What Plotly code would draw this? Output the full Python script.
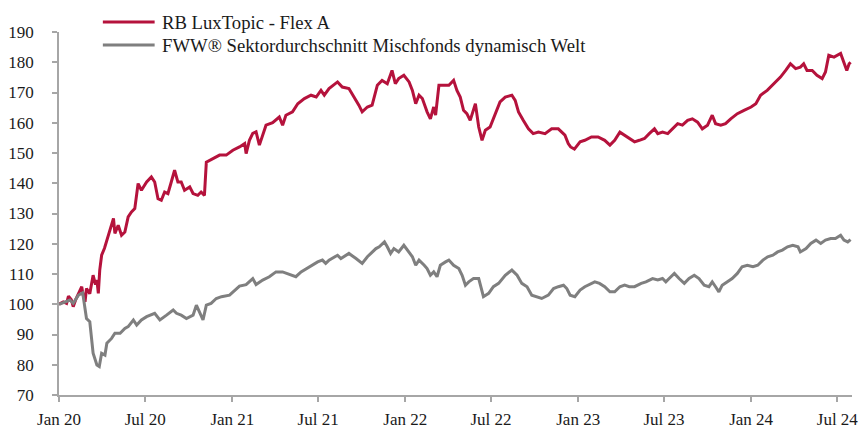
import plotly.graph_objects as go

red_name = "RB LuxTopic - Flex A"
grey_name = "FWW® Sektordurchschnitt Mischfonds dynamisch Welt"

red_dates = [
    "2020-01-01", "2020-01-10", "2020-01-17", "2020-01-21", "2020-01-27", "2020-01-31",
    "2020-02-06", "2020-02-11", "2020-02-18", "2020-02-21", "2020-02-25", "2020-02-28",
    "2020-03-06", "2020-03-13", "2020-03-18", "2020-03-21", "2020-03-24", "2020-03-27",
    "2020-03-31", "2020-04-06", "2020-04-11", "2020-04-18", "2020-04-25", "2020-04-28",
    "2020-05-05", "2020-05-12", "2020-05-19", "2020-05-26", "2020-06-02", "2020-06-09",
    "2020-06-13", "2020-06-16", "2020-06-23", "2020-07-04", "2020-07-14", "2020-07-21",
    "2020-07-28", "2020-08-04", "2020-08-11", "2020-08-18", "2020-08-25", "2020-09-01",
    "2020-09-08", "2020-09-15", "2020-09-22", "2020-10-03", "2020-10-10", "2020-10-20",
    "2020-10-27", "2020-11-03", "2020-11-07", "2020-11-21", "2020-12-05", "2020-12-19",
    "2021-01-02", "2021-01-16", "2021-01-27", "2021-01-30", "2021-02-06", "2021-02-13",
    "2021-02-20", "2021-02-27", "2021-03-06", "2021-03-13", "2021-03-27", "2021-04-10",
    "2021-04-17", "2021-04-24", "2021-05-08", "2021-05-19", "2021-06-02", "2021-06-16",
    "2021-06-27", "2021-07-07", "2021-07-14", "2021-07-24", "2021-08-11", "2021-08-21",
    "2021-09-04", "2021-09-15", "2021-09-25", "2021-10-02", "2021-10-13", "2021-10-23",
    "2021-11-03", "2021-11-13", "2021-11-24", "2021-12-04", "2021-12-11", "2021-12-18",
    "2021-12-29", "2022-01-09", "2022-01-16", "2022-01-23", "2022-01-30", "2022-02-06",
    "2022-02-16", "2022-02-23", "2022-03-02", "2022-03-06", "2022-03-13", "2022-03-23",
    "2022-04-03", "2022-04-13", "2022-04-20", "2022-04-27", "2022-05-04", "2022-05-11",
    "2022-05-18", "2022-05-29", "2022-06-05", "2022-06-12", "2022-06-19", "2022-06-29",
    "2022-07-10", "2022-07-20", "2022-07-31", "2022-08-14", "2022-08-21", "2022-08-28",
    "2022-09-07", "2022-09-18", "2022-09-28", "2022-10-09", "2022-10-23", "2022-11-06",
    "2022-11-20", "2022-11-27", "2022-12-04", "2022-12-11", "2022-12-16", "2022-12-24",
    "2023-01-05", "2023-01-15", "2023-01-29", "2023-02-12", "2023-02-26", "2023-03-09",
    "2023-03-19", "2023-03-30", "2023-04-09", "2023-04-19", "2023-04-30", "2023-05-10",
    "2023-05-21", "2023-05-31", "2023-06-11", "2023-06-18", "2023-06-28", "2023-07-09",
    "2023-07-19", "2023-07-30", "2023-08-09", "2023-08-20", "2023-08-30", "2023-09-10",
    "2023-09-20", "2023-10-01", "2023-10-11", "2023-10-18", "2023-10-29", "2023-11-08",
    "2023-11-19", "2023-12-03", "2023-12-17", "2024-01-01", "2024-01-11", "2024-01-21",
    "2024-02-04", "2024-02-18", "2024-03-03", "2024-03-14", "2024-03-24", "2024-04-04",
    "2024-04-14", "2024-04-21", "2024-04-28", "2024-05-09", "2024-05-19", "2024-05-30",
    "2024-06-06", "2024-06-13", "2024-06-24", "2024-07-08", "2024-07-15", "2024-07-21",
    "2024-07-26", "2024-07-29",
]
red_vals = [
    100.0, 100.8, 100.3, 102.7, 101.5, 99.2,
    101.8, 103.6, 105.8, 103.0, 100.8, 105.2,
    103.5, 109.6, 106.5, 108.0, 103.6, 111.3,
    116.2, 118.5, 121.2, 124.5, 128.4, 123.4,
    126.1, 122.8, 123.9, 128.9, 130.5, 131.6,
    137.1, 139.9, 137.7, 140.4, 142.1, 140.4,
    134.9, 134.4, 137.1, 136.6, 140.4, 144.3,
    140.4, 140.4, 137.7, 138.8, 136.6, 136.0,
    137.1, 136.0, 147.0, 148.2, 149.3, 149.3,
    150.9, 152.0, 153.1, 149.8, 154.2, 156.5,
    157.0, 152.6, 156.0, 159.2, 160.0, 161.9,
    159.2, 162.5, 163.6, 166.3, 168.0, 169.1,
    168.5, 170.7, 169.1, 171.3, 173.5, 171.8,
    171.3, 168.5, 165.8, 163.6, 165.2, 165.8,
    172.4, 174.0, 172.9, 177.3, 172.9, 174.6,
    175.7, 173.5, 170.7, 166.3, 169.1, 168.0,
    163.6, 161.3, 165.2, 162.5, 172.4, 172.4,
    172.4, 174.0, 170.7, 168.5, 164.1, 163.0,
    160.8, 166.3, 158.6, 154.2, 157.5, 158.6,
    163.0, 166.9, 168.5, 169.1, 167.4, 163.6,
    160.8, 158.0, 156.4, 156.9, 156.4, 158.0,
    158.0, 156.9, 155.9, 153.1, 152.0, 151.3,
    153.7, 154.2, 155.3, 155.3, 154.2, 152.6,
    154.2, 156.9, 155.9, 154.8, 153.7, 154.2,
    154.8, 156.4, 158.0, 156.4, 156.9, 156.4,
    158.0, 159.7, 159.2, 160.8, 161.3, 160.2,
    158.0, 159.2, 162.5, 159.7, 159.2, 159.7,
    161.3, 163.0, 164.1, 165.2, 166.3, 169.1,
    170.7, 172.9, 175.1, 177.3, 179.5, 177.9,
    178.4, 179.5, 177.3, 177.3, 175.7, 174.6,
    176.8, 182.3, 181.7, 182.9, 179.5, 177.3,
    179.5, 180.0,
]

grey_dates = [
    "2020-01-01", "2020-01-14", "2020-01-24", "2020-01-31", "2020-02-11", "2020-02-20",
    "2020-02-25", "2020-02-28", "2020-03-06", "2020-03-13", "2020-03-21", "2020-03-26",
    "2020-03-31", "2020-04-07", "2020-04-11", "2020-04-21", "2020-04-28", "2020-05-09",
    "2020-05-19", "2020-05-26", "2020-06-06", "2020-06-13", "2020-06-23", "2020-07-04",
    "2020-07-21", "2020-08-01", "2020-08-15", "2020-08-29", "2020-09-05", "2020-09-15",
    "2020-09-26", "2020-10-10", "2020-10-17", "2020-10-24", "2020-10-31", "2020-11-07",
    "2020-11-17", "2020-11-28", "2020-12-09", "2020-12-26", "2021-01-06", "2021-01-16",
    "2021-01-30", "2021-02-13", "2021-02-20", "2021-03-06", "2021-03-20", "2021-04-03",
    "2021-04-17", "2021-05-01", "2021-05-15", "2021-05-26", "2021-06-12", "2021-06-30",
    "2021-07-10", "2021-07-17", "2021-07-24", "2021-08-11", "2021-08-18", "2021-09-04",
    "2021-09-19", "2021-10-02", "2021-10-13", "2021-10-31", "2021-11-07", "2021-11-18",
    "2021-11-24", "2021-12-01", "2021-12-08", "2021-12-18", "2021-12-29", "2022-01-05",
    "2022-01-16", "2022-01-23", "2022-01-30", "2022-02-10", "2022-02-16", "2022-02-23",
    "2022-03-02", "2022-03-09", "2022-03-16", "2022-03-27", "2022-04-03", "2022-04-13",
    "2022-04-24", "2022-05-01", "2022-05-08", "2022-05-15", "2022-05-25", "2022-06-05",
    "2022-06-15", "2022-06-26", "2022-07-06", "2022-07-17", "2022-07-31", "2022-08-14",
    "2022-08-25", "2022-09-04", "2022-09-15", "2022-09-25", "2022-10-06", "2022-10-16",
    "2022-10-30", "2022-11-10", "2022-11-20", "2022-12-01", "2022-12-08", "2022-12-15",
    "2022-12-25", "2023-01-05", "2023-01-15", "2023-01-29", "2023-02-05", "2023-02-15",
    "2023-02-26", "2023-03-09", "2023-03-19", "2023-03-30", "2023-04-09", "2023-04-19",
    "2023-04-30", "2023-05-14", "2023-05-24", "2023-06-07", "2023-06-18", "2023-06-28",
    "2023-07-05", "2023-07-12", "2023-07-23", "2023-08-02", "2023-08-13", "2023-08-23",
    "2023-09-03", "2023-09-13", "2023-09-24", "2023-10-04", "2023-10-11", "2023-10-18",
    "2023-10-25", "2023-11-01", "2023-11-12", "2023-11-22", "2023-12-03", "2023-12-13",
    "2023-12-24", "2024-01-05", "2024-01-15", "2024-01-26", "2024-02-05", "2024-02-16",
    "2024-02-26", "2024-03-07", "2024-03-18", "2024-03-29", "2024-04-09", "2024-04-14",
    "2024-04-26", "2024-05-06", "2024-05-17", "2024-05-27", "2024-06-06", "2024-06-17",
    "2024-06-27", "2024-07-08", "2024-07-15", "2024-07-23", "2024-07-29",
]
grey_vals = [
    100.0, 100.8, 101.4, 100.3, 103.0, 103.8,
    99.2, 95.3, 94.2, 83.8, 79.9, 79.4,
    83.8, 83.2, 87.1, 88.7, 90.4, 90.4,
    92.0, 92.6, 94.8, 93.1, 94.8, 95.9,
    97.0, 94.8, 96.4, 98.1, 97.0, 96.4,
    95.3, 96.4, 99.7, 97.5, 94.8, 99.7,
    100.3, 101.9, 102.5, 103.0, 104.7, 106.0,
    106.5, 108.5, 106.5, 108.0, 109.1, 110.7,
    110.7, 110.0, 109.1, 110.7, 112.4, 114.0,
    114.6, 113.5, 114.6, 116.2, 115.1, 116.8,
    115.1, 113.5, 115.7, 118.4, 119.0, 120.6,
    119.0, 116.8, 118.4, 117.3, 119.5, 117.9,
    115.7, 112.9, 114.6, 112.9, 111.8, 109.6,
    110.7, 109.1, 112.9, 114.0, 114.6, 112.9,
    111.8, 109.6, 106.3, 107.4, 108.5, 108.5,
    102.5, 103.6, 105.8, 106.9, 109.6, 111.3,
    109.6, 106.9, 105.8, 103.0, 102.5, 101.9,
    103.0, 105.2, 105.8, 106.3, 105.2, 103.0,
    102.5, 104.7, 105.8, 106.9, 107.4, 106.9,
    105.8, 104.1, 104.1, 105.8, 106.3, 105.8,
    105.8, 106.9, 107.4, 108.5, 108.0, 108.5,
    107.4, 108.5, 110.2, 108.5, 106.9, 108.5,
    109.6, 108.5, 106.3, 105.8, 107.4, 105.8,
    104.1, 106.3, 107.4, 108.5, 110.2, 112.4,
    112.9, 112.4, 112.9, 114.6, 115.7, 116.2,
    117.3, 117.9, 119.0, 119.5, 119.0, 117.3,
    118.4, 120.1, 121.2, 120.1, 121.2, 121.7,
    121.7, 122.8, 121.2, 120.6, 121.4,
]

font_name = "Liberation Serif, Times New Roman, serif"
text_col = "#1a1a1a"
axis_grey = "#a6a6a6"
red_col = "#b5123c"
grey_col = "#7f7f7f"

fig = go.Figure()
fig.add_trace(go.Scatter(x=red_dates, y=red_vals, mode="lines", name=red_name,
                         line=dict(color=red_col, width=3)))
fig.add_trace(go.Scatter(x=grey_dates, y=grey_vals, mode="lines", name=grey_name,
                         line=dict(color=grey_col, width=3)))

# legend drawn by hand so the key lines are as long as in the original
for name, col, ly in [(red_name, red_col, 1.0275), (grey_name, grey_col, 0.964)]:
    fig.add_shape(type="line", xref="paper", yref="paper",
                  x0=0.0553, x1=0.1206, y0=ly, y1=ly,
                  line=dict(color=col, width=3))
    fig.add_annotation(text=name, xref="paper", yref="paper", x=0.1269, y=ly,
                       xanchor="left", yanchor="middle", showarrow=False,
                       font=dict(family=font_name, size=18.7, color=text_col))

fig.update_layout(
    width=862, height=430,
    margin=dict(l=59, r=10, t=32, b=35),
    paper_bgcolor="white", plot_bgcolor="white",
    font=dict(family=font_name, size=17, color=text_col),
    showlegend=False,
)
fig.update_xaxes(
    type="date", range=["2020-01-01", "2024-08-01"],
    tick0="2020-01-01", dtick="M6", tickformat="%b %y",
    tickfont=dict(family=font_name, size=17, color=text_col),
    showgrid=False, zeroline=False, automargin=False,
    showline=True, linecolor=axis_grey, linewidth=1.5,
    ticks="outside", ticklen=5, tickcolor=axis_grey, tickwidth=1.5,
    ticklabelstandoff=3,
)
fig.update_yaxes(
    range=[70, 190], dtick=10,
    tickfont=dict(family=font_name, size=17, color=text_col),
    showgrid=False, zeroline=False, automargin=False,
    showline=True, linecolor=axis_grey, linewidth=1.5,
    ticks="outside", ticklen=5, tickcolor=axis_grey, tickwidth=1.5,
    ticklabelstandoff=15,
)

# the page's default body margin would shift the figure by 8px
fig.write_html("out.html", config={"displayModeBar": False},
               post_script="document.body.style.margin = '0';")
